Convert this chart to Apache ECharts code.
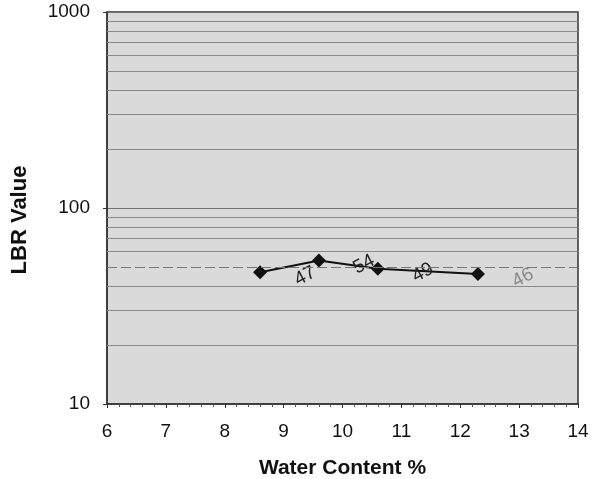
<!DOCTYPE html>
<html><head><meta charset="utf-8">
<script src="https://cdn.jsdelivr.net/npm/echarts@6/dist/echarts.min.js"></script>
<style>html,body{margin:0;padding:0;background:#fff}#c{width:595px;height:479px}</style>
</head><body><div id="c"></div>
<script>
const waterContent = [8.6, 9.6, 10.6, 12.3];
const lbrValues = [47, 54, 49, 46];
const pointLabels = ['47', '54', '49', '46'];
const gridValues = [20,30,40,50,60,70,80,90,200,300,400,500,600,700,800,900];
const dashedGridValues = [50];

const chart = echarts.init(document.getElementById('c'));
const font = 'Liberation Sans, Arial, sans-serif';
chart.setOption({
  animation: false,
  grid: {left: 107, right: 17, top: 12, bottom: 75, outerBoundsMode: 'none', containLabel: false, show: true, backgroundColor: '#dadada', borderColor: '#333', borderWidth: 1.5},
  xAxis: {
    type: 'value', min: 6, max: 14, interval: 1,
    name: 'Water Content %', nameLocation: 'middle', nameGap: 54,
    nameTextStyle: {fontFamily: font, fontSize: 21, fontWeight: 'bold', color: '#111'},
    axisLine: {lineStyle: {color: '#333', width: 1.5}},
    axisTick: {show: true, inside: false, length: 4, lineStyle: {color: '#333'}},
    minorTick: {show: true, splitNumber: 5, length: 3, lineStyle: {color: '#555'}},
    axisLabel: {fontFamily: font, fontSize: 19, color: '#111', margin: 18},
    splitLine: {show: false}
  },
  yAxis: {
    type: 'log', logBase: 10, min: 10, max: 1000,
    name: 'LBR Value', nameLocation: 'middle', nameGap: 76,
    nameTextStyle: {fontFamily: font, fontSize: 22, fontWeight: 'bold', color: '#111', padding: [0, 24, 0, 0]},
    axisLine: {lineStyle: {color: '#333', width: 1.5}},
    axisTick: {show: true, inside: false, length: 4, lineStyle: {color: '#333'}},
    axisLabel: {fontFamily: font, fontSize: 19, color: '#111', margin: 17, formatter: v => String(v)},
    splitLine: {show: true, lineStyle: {color: '#6f6f6f', width: 1.2}}
  },
  series: [{
    type: 'line',
    data: waterContent.map((x, i) => ({value: [x, lbrValues[i]], label: i === 3 ? {color: '#8a8a8a'} : {}})),
    symbol: 'diamond', symbolSize: 14,
    itemStyle: {color: '#111'},
    lineStyle: {color: '#111', width: 2},
    label: {
      show: true, position: 'right', distance: 24, rotate: 28,
      fontFamily: font, fontSize: 19,
      formatter: p => pointLabels[p.dataIndex],
      color: '#222'
    },
    labelLayout: {dy: 10},
    markLine: {
      silent: true, symbol: 'none', label: {show: false},
      lineStyle: {color: '#888', type: 'solid', width: 1.2},
      data: gridValues.map(v => ({yAxis: v, lineStyle: dashedGridValues.includes(v) ? {type: [10, 4], color: '#777'} : {}}))
    }
  }]
});
</script></body></html>
